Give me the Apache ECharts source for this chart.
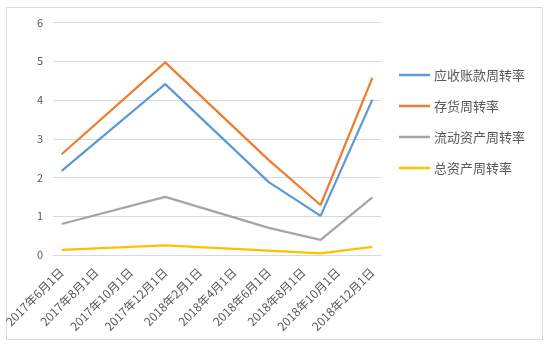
<!DOCTYPE html>
<html>
<head>
<meta charset="utf-8">
<script src="https://cdn.jsdelivr.net/npm/echarts@6/dist/echarts.min.js"></script>
<style>
  html, body { margin: 0; padding: 0; background: #fff; }
  #chart { width: 556px; height: 350px; }
</style>
</head>
<body>
<div id="chart"></div>
<script>
// Monthly date axis from 2017-06 to 2018-12; labels shown every two months
const months = [
  '2017年6月1日', '2017年7月1日', '2017年8月1日', '2017年9月1日', '2017年10月1日',
  '2017年11月1日', '2017年12月1日', '2018年1月1日', '2018年2月1日', '2018年3月1日',
  '2018年4月1日', '2018年5月1日', '2018年6月1日', '2018年7月1日', '2018年8月1日',
  '2018年9月1日', '2018年10月1日', '2018年11月1日', '2018年12月1日'
];

// Observation dates and values for each turnover ratio
const obsDates = ['2017年6月1日', '2017年12月1日', '2018年6月1日', '2018年9月1日', '2018年12月1日'];
const receivableTurnover = [2.17, 4.41, 1.88, 1.01, 4.01];
const inventoryTurnover = [2.6, 4.97, 2.45, 1.29, 4.57];
const currentAssetTurnover = [0.8, 1.5, 0.7, 0.39, 1.49];
const totalAssetTurnover = [0.13, 0.25, 0.11, 0.04, 0.21];

const seriesNames = ['应收账款周转率', '存货周转率', '流动资产周转率', '总资产周转率'];
const seriesValues = [receivableTurnover, inventoryTurnover, currentAssetTurnover, totalAssetTurnover];
const colors = ['#5B9BD5', '#ED7D31', '#A5A5A5', '#FFC000'];

const yTicks = [0, 1, 2, 3, 4, 5, 6];

function toMonthly(values) {
  return months.map(m => {
    const i = obsDates.indexOf(m);
    return i >= 0 ? values[i] : null;
  });
}

const font = '"Noto Sans CJK SC", "Noto Sans", sans-serif';
const chart = echarts.init(document.getElementById('chart'));
chart.setOption({
  animation: false,
  color: colors,
  textStyle: { fontFamily: font },
  graphic: [{
    type: 'rect',
    shape: { x: 6.5, y: 7.5, width: 536, height: 332 },
    style: { fill: 'none', stroke: '#d9d9d9', lineWidth: 1 },
    silent: true
  }],
  grid: { left: 53, right: 175, top: 22.5, bottom: 95 },
  legend: {
    orient: 'vertical',
    left: 399,
    top: 68,
    padding: 0,
    icon: 'rect',
    itemWidth: 31,
    itemHeight: 2.5,
    itemGap: 17,
    textStyle: { color: '#595959', fontSize: 13, lineHeight: 14, fontFamily: font, padding: [0, 0, 0, -1] },
    data: seriesNames
  },
  xAxis: {
    type: 'category',
    data: months,
    boundaryGap: true,
    axisLine: { lineStyle: { color: '#d9d9d9' } },
    axisTick: { show: false },
    axisLabel: {
      interval: 1,
      rotate: 45,
      color: '#595959',
      fontSize: 12,
      fontFamily: font,
      margin: 15
    }
  },
  yAxis: {
    type: 'value',
    min: yTicks[0],
    max: yTicks[yTicks.length - 1],
    interval: 1,
    axisLine: { show: false },
    axisTick: { show: false },
    axisLabel: { color: '#595959', fontSize: 11, margin: 10 },
    splitLine: { lineStyle: { color: '#d9d9d9' } }
  },
  series: seriesNames.map((name, i) => ({
    name,
    type: 'line',
    data: toMonthly(seriesValues[i]),
    connectNulls: true,
    showSymbol: false,
    lineStyle: { width: 2.25, color: colors[i] },
    itemStyle: { color: colors[i] }
  }))
});
</script>
</body>
</html>
